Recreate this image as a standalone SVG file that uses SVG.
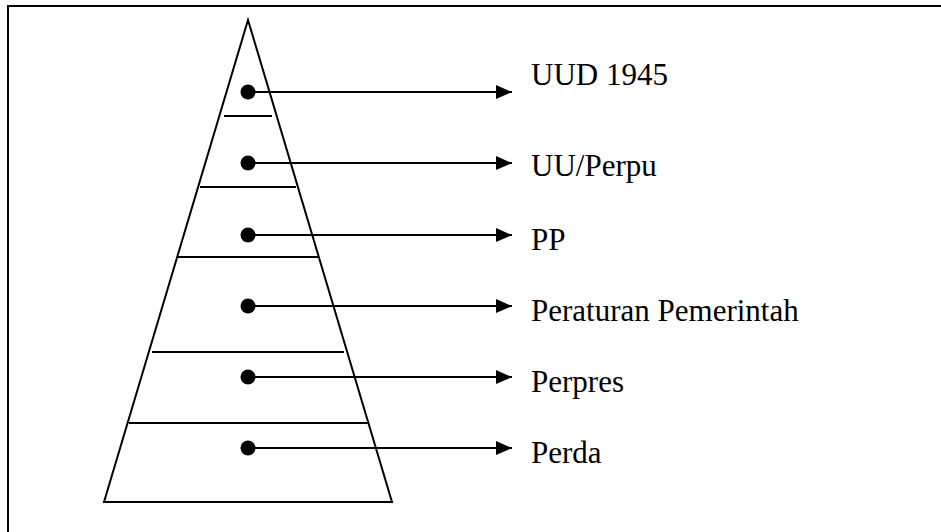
<svg xmlns="http://www.w3.org/2000/svg" width="941" height="532" viewBox="0 0 941 532">
<style>
.frame{fill:none;stroke:#000;stroke-width:2}
.pyr{fill:none;stroke:#000;stroke-width:2;stroke-linejoin:miter}
.tier{stroke:#000;stroke-width:2}
.dot{fill:#000}
.conn{stroke:#000;stroke-width:2;fill:none}
text{font-family:'Liberation Serif',serif;font-size:31px;fill:#000}
</style>
<defs>
<marker id="ah" markerWidth="16" markerHeight="14" refX="16" refY="7" orient="auto" markerUnits="userSpaceOnUse">
<path d="M0,0 L16,7 L0,14 Z" fill="#000"/>
</marker>
</defs>
<rect width="941" height="532" fill="#fff"/>
<path class="frame" d="M8,532 L8,6 L941,6"/>
<g id="pyramid">
<path class="pyr" d="M248,20 L392,502 L104,502 Z"/>
<line class="tier" x1="224" y1="116" x2="272" y2="116"/>
<line class="tier" x1="200" y1="187" x2="296" y2="187"/>
<line class="tier" x1="177" y1="257" x2="319" y2="257"/>
<line class="tier" x1="152" y1="352" x2="344" y2="352"/>
<line class="tier" x1="129" y1="423" x2="368" y2="423"/>
</g>
<g id="connectors">
<line class="conn" x1="248" y1="92" x2="512" y2="92" marker-end="url(#ah)"/>
<line class="conn" x1="248" y1="163" x2="512" y2="163" marker-end="url(#ah)"/>
<line class="conn" x1="248" y1="235" x2="512" y2="235" marker-end="url(#ah)"/>
<line class="conn" x1="248" y1="306" x2="512" y2="306" marker-end="url(#ah)"/>
<line class="conn" x1="248" y1="377" x2="512" y2="377" marker-end="url(#ah)"/>
<line class="conn" x1="248" y1="448" x2="512" y2="448" marker-end="url(#ah)"/>
</g>
<g id="n1"><circle class="dot" cx="248" cy="92" r="7.5"/><text x="531" y="85" font-family="Liberation Serif, Times New Roman, serif">UUD 1945</text></g>
<g id="n2"><circle class="dot" cx="248" cy="163" r="7.5"/><text x="531" y="176" font-family="Liberation Serif, Times New Roman, serif">UU/Perpu</text></g>
<g id="n3"><circle class="dot" cx="248" cy="235" r="7.5"/><text x="531" y="250" font-family="Liberation Serif, Times New Roman, serif">PP</text></g>
<g id="n4"><circle class="dot" cx="248" cy="306" r="7.5"/><text x="531" y="321" font-family="Liberation Serif, Times New Roman, serif">Peraturan Pemerintah</text></g>
<g id="n5"><circle class="dot" cx="248" cy="377" r="7.5"/><text x="531" y="392" font-family="Liberation Serif, Times New Roman, serif">Perpres</text></g>
<g id="n6"><circle class="dot" cx="248" cy="448" r="7.5"/><text x="531" y="463" font-family="Liberation Serif, Times New Roman, serif">Perda</text></g>
</svg>
